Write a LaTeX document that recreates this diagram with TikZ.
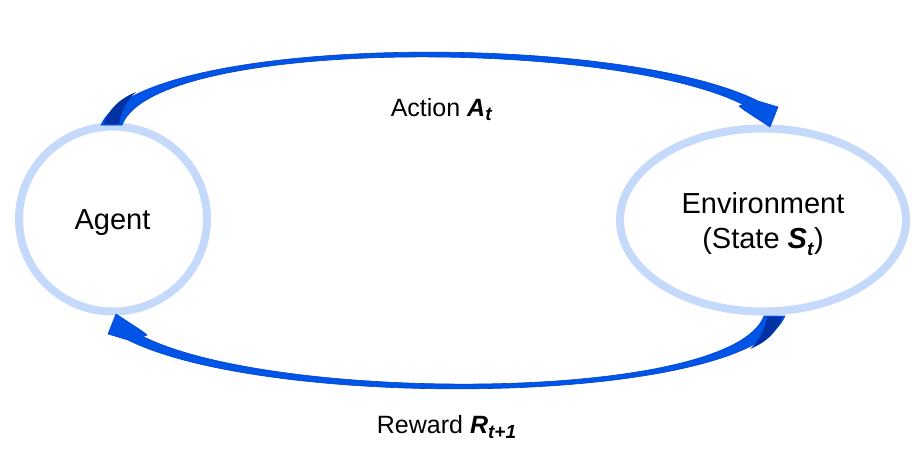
\documentclass[tikz,border=0pt]{standalone}
\usepackage{fontspec}
\setmainfont{Liberation Sans}
\usetikzlibrary{shapes.geometric}
\definecolor{ringblue}{RGB}{197,218,250}
\definecolor{arrowblue}{RGB}{0,84,230}
\definecolor{arrowedge}{RGB}{0,68,210}
\definecolor{arrowdark}{RGB}{0,50,165}
\newcommand\bigtxt{\fontsize{29}{34.7}\selectfont}
\newcommand\lbltxt{\fontsize{25}{30}\selectfont}
\newcommand\bivar[1]{\textbf{\textit{#1}}}
\newcommand\curvedarrowshape{%
  \fill[arrowblue, draw=arrowedge, line width=0.6pt, line join=miter]
    (101,125) .. controls (140,35) and (615,30) .. (758,101)
    -- (778,107) -- (770,127) -- (744,110) -- (739,106) -- (743,104.5)
    .. controls (610,38) and (155,38) .. (122,125) -- cycle;
  \fill[arrowdark]
    (104,124) .. controls (108,110) and (119,99) .. (136,92)
    .. controls (127,100) and (121,111) .. (119,124) -- cycle;
}
\tikzset{
  ring/.style={ellipse, draw=ringblue, line width=8pt, inner sep=0pt},
  bigtext/.style={font=\bigtxt, inner sep=0pt, anchor=base},
  lbltext/.style={font=\lbltxt, inner sep=0pt, anchor=base}
}
\begin{document}
\begin{tikzpicture}[x=1pt,y=-1pt]
\useasboundingbox (0,0) rectangle (912,451);
\fill[white] (0,0) rectangle (912,451);
% circles
\node[ring, minimum width=188pt, minimum height=185pt] (agent) at (113,219) {};
\node[ring, minimum width=286pt, minimum height=183pt] (env) at (763,220) {};
% texts
\node[bigtext] (agenttxt) at (112.5,229.3) {Agent};
\node[bigtext] (envtxt1) at (763,213.3) {Environment};
\node[bigtext] (envtxt2) at (763,248) {(State \bivar{S}\raisebox{-7pt}{\fontsize{19}{19}\selectfont\bivar{t}})};
\node[lbltext] (actiontxt) at (441.5,116) {Action \bivar{A}\raisebox{-4.5pt}{\fontsize{19}{19}\selectfont\bivar{t}}};
\node[lbltext] (rewardtxt) at (446.5,433.3) {Reward \bivar{R}\raisebox{-5.5pt}{\fontsize{19}{19}\selectfont\bivar{t+1}}};
% curved block arrows
\begin{scope}
  \curvedarrowshape
\end{scope}
\begin{scope}[rotate around={180:(443,220.5)}]
  \curvedarrowshape
\end{scope}
\end{tikzpicture}
\end{document}
